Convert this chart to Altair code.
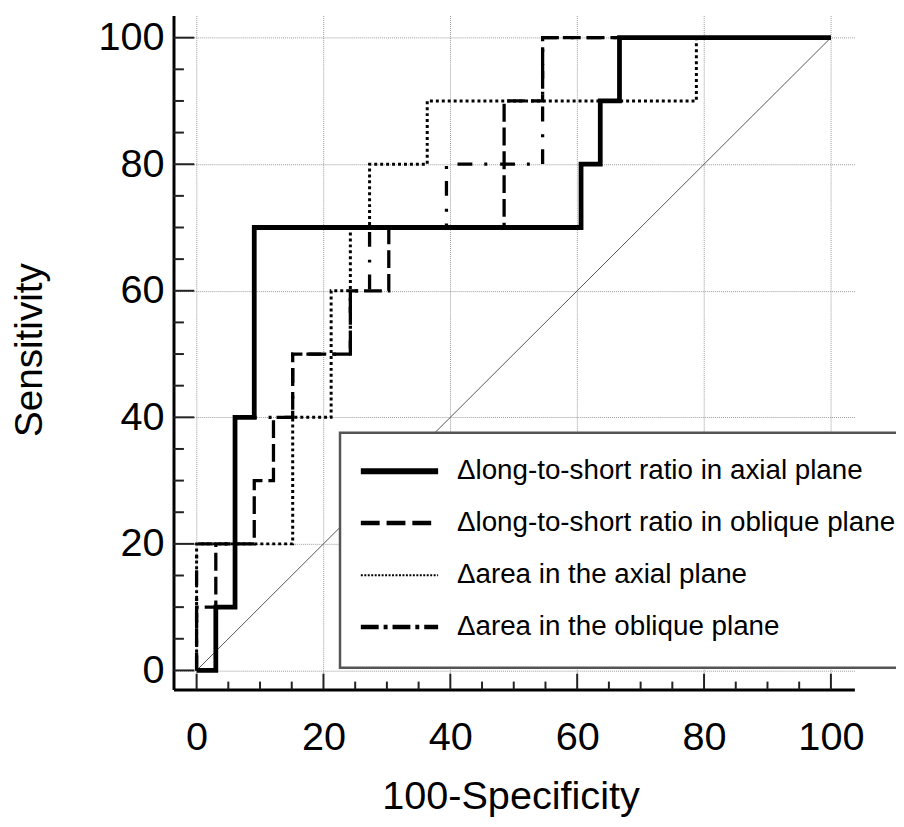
import altair as alt
import pandas as pd

# ---------------- data ----------------
series_names = [
    "Δlong-to-short ratio in axial plane",
    "Δlong-to-short ratio in oblique plane",
    "Δarea in the axial plane",
    "Δarea in the oblique plane",
]

# ROC operating points (100-Specificity, Sensitivity), drawn as step-after
axial_ratio_fpr = [0, 3.03, 6.06, 9.09, 60.61, 63.64, 66.67, 100]
axial_ratio_tpr = [0, 10, 40, 70, 80, 90, 100, 100]

oblique_ratio_fpr = [0, 0, 3.03, 9.09, 12.12, 15.15, 24.24, 30.30, 48.48, 54.55, 100]
oblique_ratio_tpr = [0, 10, 20, 30, 40, 50, 60, 70, 90, 100, 100]

axial_area_fpr = [0, 0, 15.15, 21.21, 24.24, 27.27, 36.36, 78.79, 100]
axial_area_tpr = [0, 20, 40, 60, 70, 80, 90, 100, 100]

oblique_area_fpr = [0, 0, 6.06, 15.15, 24.24, 27.27, 39.39, 54.55, 100]
oblique_area_tpr = [0, 20, 40, 50, 60, 70, 80, 100, 100]

diag_x = [0, 100]
diag_y = [0, 100]

major_ticks = [0, 20, 40, 60, 80, 100]
minor_ticks = [5, 10, 15, 25, 30, 35, 45, 50, 55, 65, 70, 75, 85, 90, 95]

# ---------------- styling ----------------
FONT = "Liberation Sans"
W, H = 687, 680

xs = alt.Scale(domain=[-3.64, 103.7], nice=False, zero=False)
ys = alt.Scale(domain=[-3.02, 103.49], nice=False, zero=False)

x_axis = alt.Axis(
    values=major_ticks, title="100-Specificity", grid=True,
    gridColor="#9a9a9a", gridDash=[1, 1], gridWidth=1,
    domainColor="black", domainWidth=3, ticks=False, tickSize=0,
    labelFont=FONT, labelFontSize=40, labelColor="black",
    labelBaseline="alphabetic", labelPadding=61, labelAlign="center",
    labelFlush=False,
    titleFont=FONT, titleFontSize=40, titleFontWeight="normal", titleColor="black",
    titleX=340, titleY=120, titleBaseline="alphabetic", titleAlign="center",
)
y_axis = alt.Axis(
    values=major_ticks, title="Sensitivity", grid=True,
    gridColor="#9a9a9a", gridDash=[1, 1], gridWidth=1,
    domainColor="black", domainWidth=3, ticks=False, tickSize=0,
    labelFont=FONT, labelFontSize=40, labelColor="black", labelPadding=9.5,
    labelFlush=False,
    titleFont=FONT, titleFontSize=39, titleFontWeight="normal", titleColor="black",
    titleX=-133, titleY=337, titleBaseline="alphabetic", titleAlign="center",
    titleAngle=270,
)


def X(field="x"):
    return alt.X(f"{field}:Q", scale=xs, axis=x_axis)


def Y(field="y"):
    return alt.Y(f"{field}:Q", scale=ys, axis=y_axis)


def roc_layer(fpr, tpr, width, dash=None):
    df = pd.DataFrame({"x": fpr, "y": tpr, "i": list(range(len(fpr)))})
    kw = dict(interpolate="step-after", color="black", strokeWidth=width,
              strokeCap="butt", strokeJoin="miter")
    if dash is not None:
        kw["strokeDash"] = dash
    return alt.Chart(df).mark_line(**kw).encode(x=X(), y=Y(), order="i:Q")


layers = []

# diagonal reference line
diag_df = pd.DataFrame({"x": diag_x, "y": diag_y})
layers.append(alt.Chart(diag_df).mark_line(color="#555555", strokeWidth=1).encode(x=X(), y=Y()))

# ROC curves
layers.append(roc_layer(axial_area_fpr, axial_area_tpr, 3, [3, 3]))
layers.append(roc_layer(oblique_area_fpr, oblique_area_tpr, 3.3, [15, 12, 3, 13]))
layers.append(roc_layer(oblique_ratio_fpr, oblique_ratio_tpr, 3.3, [18, 6]))
layers.append(roc_layer(axial_ratio_fpr, axial_ratio_tpr, 4.8))

# inward ticks
layers.append(alt.Chart(pd.DataFrame({"y": major_ticks})).mark_rule(color="#222222", strokeWidth=2)
              .encode(y=Y(), x=alt.value(0), x2=alt.value(21)))
layers.append(alt.Chart(pd.DataFrame({"y": minor_ticks})).mark_rule(color="#222222", strokeWidth=2)
              .encode(y=Y(), x=alt.value(0), x2=alt.value(10.5)))
layers.append(alt.Chart(pd.DataFrame({"x": major_ticks})).mark_rule(color="#222222", strokeWidth=2)
              .encode(x=X(), y=alt.value(H), y2=alt.value(H - 16)))
layers.append(alt.Chart(pd.DataFrame({"x": minor_ticks})).mark_rule(color="#222222", strokeWidth=2)
              .encode(x=X(), y=alt.value(H), y2=alt.value(H - 8)))

# legend box
layers.append(alt.Chart(pd.DataFrame({"k": [0]})).mark_rect(fill="white", stroke="#555555", strokeWidth=2.5)
              .encode(x=alt.value(168), x2=alt.value(731), y=alt.value(421), y2=alt.value(658)))

legend_styles = [
    dict(strokeWidth=6),
    dict(strokeWidth=4.5, strokeDash=[19, 7]),
    dict(strokeWidth=1.8, strokeDash=[2, 1.5]),
    dict(strokeWidth=4.5, strokeDash=[18, 5, 4, 5]),
]
legend_rows = [459.7, 512, 564.7, 617]

for name, style, ry in zip(series_names, legend_styles, legend_rows):
    layers.append(alt.Chart(pd.DataFrame({"k": [0]})).mark_rule(color="black", strokeCap="butt", **style)
                  .encode(x=alt.value(189), x2=alt.value(267), y=alt.value(ry)))
    layers.append(alt.Chart(pd.DataFrame({"name": [name]})).mark_text(
        align="left", baseline="middle", font=FONT, fontSize=28, color="black")
        .encode(x=alt.value(286), y=alt.value(ry), text="name:N"))

chart = (
    alt.layer(*layers)
    .properties(
        width=W, height=H,
        padding={"left": 167, "top": 4, "right": 42, "bottom": 129},
        autosize=alt.AutoSizeParams(type="none"),
        background="white",
    )
    .configure_view(stroke="transparent")
)

chart.save("out.html", embed_options={"renderer": "svg", "actions": False})
